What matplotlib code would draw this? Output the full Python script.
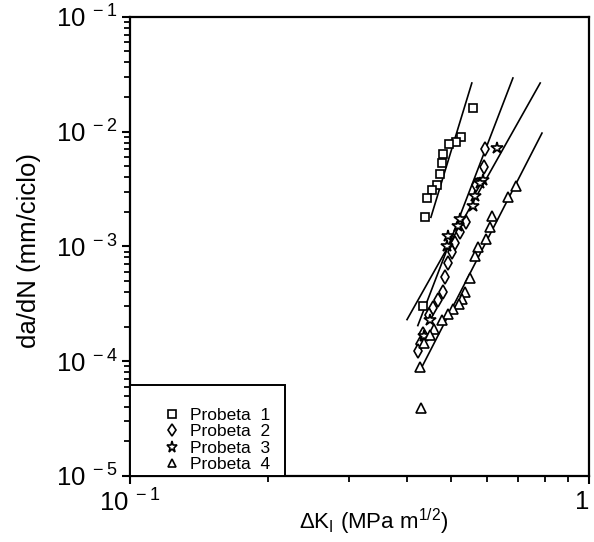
import matplotlib
matplotlib.use("Agg")
import matplotlib.pyplot as plt
from matplotlib.ticker import LogLocator, NullFormatter, FixedLocator
from matplotlib.patches import Rectangle

plt.rcParams['font.family'] = ['Liberation Sans', 'DejaVu Sans']
plt.rcParams['mathtext.fontset'] = 'custom'
plt.rcParams['mathtext.rm'] = 'Liberation Sans'
plt.rcParams['mathtext.it'] = 'Liberation Sans'

# Probeta 1 (squares)
p1_dk = [0.558, 0.525, 0.512, 0.495, 0.480, 0.478, 0.473, 0.466, 0.454, 0.443, 0.438, 0.434]
p1_da = [0.0160, 0.00895, 0.00809, 0.00778, 0.00636, 0.00531, 0.00426, 0.00341, 0.00308, 0.00262, 0.00179, 0.000305]

# Probeta 2 (diamonds)
p2_dk = [0.593, 0.590, 0.567, 0.539, 0.523, 0.510, 0.502, 0.492, 0.485, 0.480, 0.468, 0.457, 0.448, 0.434, 0.428, 0.423]
p2_da = [0.00704, 0.00490, 0.00341, 0.00162, 0.00133, 0.00106, 0.000886, 0.000710, 0.000536, 0.000397,
         0.000338, 0.000293, 0.000250, 0.000174, 0.000142, 0.000123]

# Probeta 3 (stars)
p3_dk = [0.630, 0.587, 0.578, 0.564, 0.558, 0.523, 0.518, 0.492, 0.490, 0.450, 0.436]
p3_da = [0.00718, 0.00377, 0.00355, 0.00273, 0.00223, 0.00172, 0.00150, 0.00122, 0.00100, 0.000226, 0.000167]

# Probeta 4 (triangles)
p4_dk = [0.693, 0.665, 0.614, 0.608, 0.596, 0.572, 0.564, 0.550, 0.536, 0.528, 0.520, 0.505, 0.492,
         0.478, 0.459, 0.450, 0.436, 0.428, 0.430]
p4_da = [0.00334, 0.00268, 0.00183, 0.00147, 0.00117, 0.000980, 0.000818, 0.000525, 0.000397, 0.000351,
         0.000312, 0.000282, 0.000255, 0.000226, 0.000192, 0.000170, 0.000145, 0.0000895, 0.0000393]

# Fitted lines (end points)
fit1_dk = [0.452, 0.555]
fit1_da = [0.00179, 0.0265]
fit2_dk = [0.4233, 0.682]
fit2_da = [0.000204, 0.0293]
fit3_dk = [0.401, 0.782]
fit3_da = [0.000230, 0.0265]
fit4_dk = [0.428, 0.789]
fit4_da = [0.0000826, 0.0097]

labels = ["Probeta  1", "Probeta  2", "Probeta  3", "Probeta  4"]
x_ticks = [0.1, 1]
x_ticklabels = [r'$10^{\ -1}$', '1']
y_ticks = [1e-5, 1e-4, 1e-3, 1e-2, 1e-1]
y_ticklabels = [r'$10^{\ -5}$', r'$10^{\ -4}$', r'$10^{\ -3}$', r'$10^{\ -2}$', r'$10^{\ -1}$']

fig = plt.figure(figsize=(5.94, 5.42), dpi=100)
ax = fig.add_axes([0.219, 0.122, 0.773, 0.847])
ax.set_xscale('log')
ax.set_yscale('log')
ax.set_xlim(0.1, 1)
ax.set_ylim(1e-5, 1e-1)

mk = dict(linestyle='none', markerfacecolor='white', markeredgecolor='black',
          markeredgewidth=1.2, color='black')
ax.plot(p1_dk, p1_da, marker='s', markersize=6, label=labels[0], **mk)
ax.plot(p2_dk, p2_da, marker='d', markersize=7, label=labels[1], **mk)
ax.plot(p3_dk, p3_da, marker='*', markersize=9, label=labels[2], **mk)
ax.plot(p4_dk, p4_da, marker='^', markersize=6.5, label=labels[3], **mk)

for fx, fy in [(fit1_dk, fit1_da), (fit2_dk, fit2_da), (fit3_dk, fit3_da), (fit4_dk, fit4_da)]:
    ax.plot(fx, fy, color='black', linewidth=1.2, zorder=1)

for s in ax.spines.values():
    s.set_linewidth(1.6)

ax.xaxis.set_major_locator(FixedLocator(x_ticks))
ax.set_xticklabels(x_ticklabels)
ax.xaxis.set_minor_locator(LogLocator(base=10, subs=[2, 3, 4, 5, 6, 7, 8, 9]))
ax.xaxis.set_minor_formatter(NullFormatter())
ax.yaxis.set_major_locator(FixedLocator(y_ticks))
ax.set_yticklabels(y_ticklabels)
ax.yaxis.set_minor_locator(LogLocator(base=10, subs=[2, 3, 4, 5, 6, 7, 8, 9]))
ax.yaxis.set_minor_formatter(NullFormatter())

ax.tick_params(which='major', direction='out', length=6, width=1.5, labelsize=18.5, pad=3)
ax.tick_params(which='minor', direction='out', length=4, width=1.3)
ax.tick_params(axis='x', which='major', pad=4)
ax.get_xticklabels()[-1].set_horizontalalignment('right')

ax.set_ylabel('da/dN (mm/ciclo)', fontsize=18.5)
ax.yaxis.set_label_coords(-0.195, 0.49)
ax.set_xlabel(r'$\Delta$K$_{\mathrm{I}}$ (MPa m$^{1/2}$)', fontsize=16)
ax.xaxis.set_label_coords(0.53, -0.10)
ax.xaxis.label.set_verticalalignment('center')

# legend frame
ax.add_patch(Rectangle((0, 0), 0.338, 0.198, transform=ax.transAxes, fill=True,
                       facecolor='white', edgecolor='black', linewidth=1.4, zorder=3))
leg = ax.legend(loc='lower left', bbox_to_anchor=(0.073, 0.008), frameon=False,
                fontsize=12.5, borderaxespad=0.0, borderpad=0.0, handletextpad=0.5,
                labelspacing=0.08, handlelength=1.0, markerscale=0.9)
leg.set_zorder(4)

fig.savefig('out.png', dpi=100, facecolor='white')
